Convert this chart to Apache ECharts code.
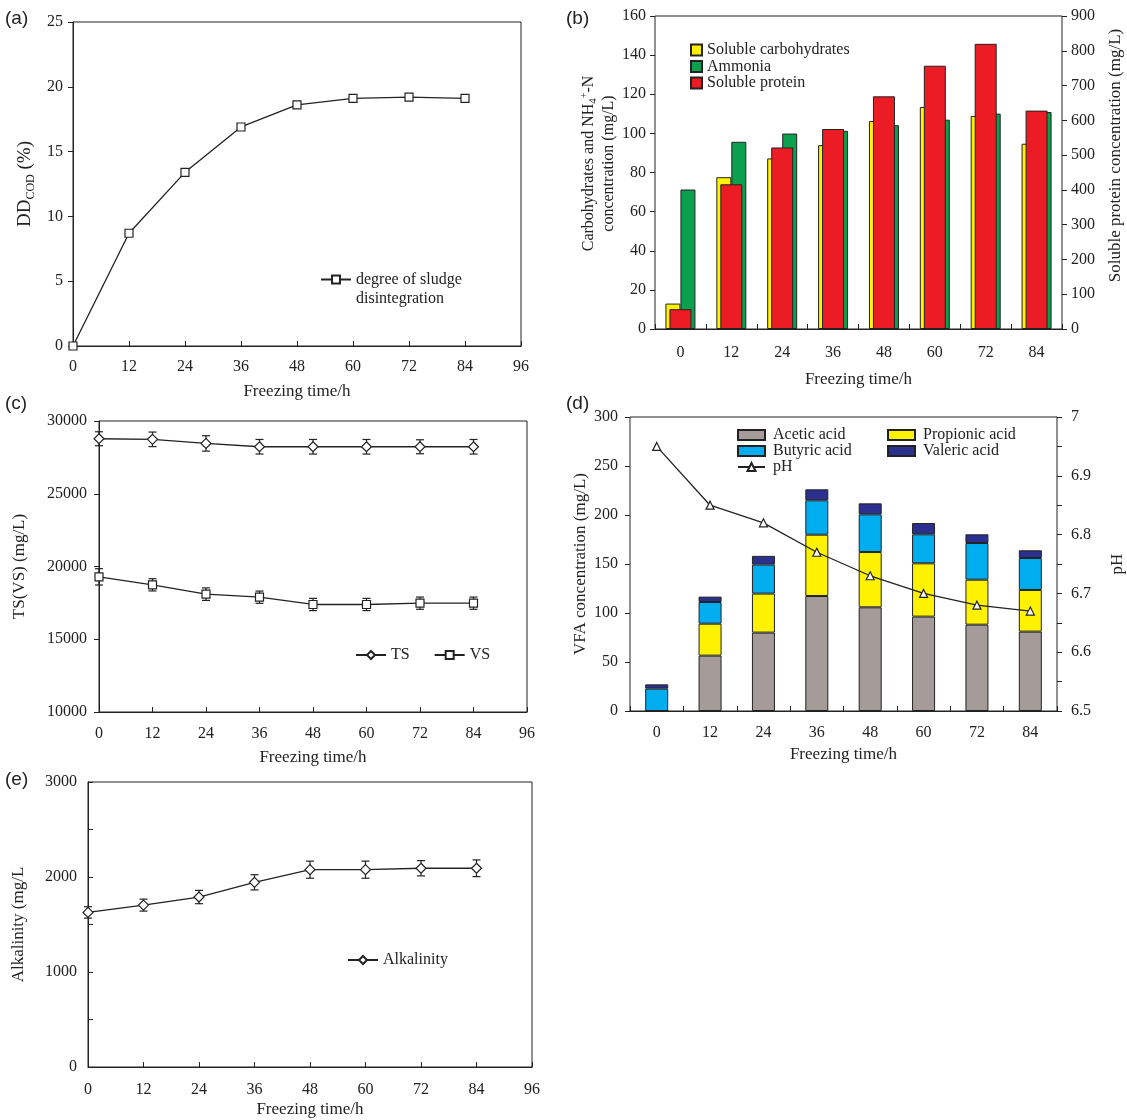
<!DOCTYPE html>
<html><head><meta charset="utf-8">
<script src="https://cdn.jsdelivr.net/npm/echarts@6/dist/echarts.min.js"></script>
<style>html,body{margin:0;padding:0;background:#fff}#c{width:1127px;height:1120px}</style>
</head><body><div id="c"></div>
<script>
// ---- shared
const hours = [0, 12, 24, 36, 48, 60, 72, 84];
const hourLabels = ['0', '12', '24', '36', '48', '60', '72', '84'];
// ---- (a) degree of sludge disintegration
const ddCOD = [0, 8.7, 13.4, 16.9, 18.6, 19.1, 19.2, 19.1];
// ---- (b)
const carbohydrates = [13.0, 77.6, 87.2, 94.0, 106.3, 113.5, 108.9, 94.7];
const ammonia = [71.3, 95.7, 99.9, 101.3, 104.2, 107.0, 110.1, 110.9];
const protein = [57, 416, 522, 575, 669, 757, 820, 628];
// ---- (c)
const tsMean = [28780, 28740, 28460, 28230, 28230, 28230, 28230, 28230];
const tsErr = [480, 500, 530, 500, 500, 500, 480, 500];
const vsMean = [19290, 18740, 18100, 17890, 17390, 17390, 17480, 17480];
const vsErr = [560, 420, 430, 420, 420, 420, 420, 420];
// ---- (d)
const acetic = [0, 56.5, 80.0, 117.3, 105.8, 96.3, 88.1, 81.0];
const propionic = [0, 32.6, 39.8, 62.6, 56.4, 54.4, 45.9, 42.5];
const butyric = [22.8, 22.1, 29.6, 35.1, 38.5, 29.6, 37.4, 32.6];
const valeric = [4.4, 5.5, 8.9, 11.2, 11.2, 11.5, 8.9, 7.9];
const pH = [6.95, 6.85, 6.82, 6.77, 6.73, 6.70, 6.68, 6.67];
// ---- (e)
const alkalinity = [1627, 1704, 1789, 1944, 2077, 2077, 2092, 2092];
const alkErr = [60, 63, 70, 80, 90, 90, 80, 88];

const F = 'Liberation Serif';
const INK = '#222';
const lab = (m) => ({fontFamily: F, fontSize: 16, color: INK, margin: m});
const nameSt = {fontFamily: F, fontSize: 17, color: INK};
const line = {lineStyle: {color: INK, width: 1}};
const noSplit = {show: false};
const plain = (v) => String(v);

const pairs = (ys) => hours.map((h, i) => [h, ys[i]]);
const errPairs = (ys, es) => hours.map((h, i) => [h, ys[i] - es[i], ys[i] + es[i]]);

function errRender(params, api) {
  const x = api.value(0), lo = api.value(1), hi = api.value(2);
  const p1 = api.coord([x, hi]), p2 = api.coord([x, lo]);
  const w = 4;
  const st = {stroke: INK, lineWidth: 1.2};
  return {type: 'group', children: [
    {type: 'line', shape: {x1: p1[0], y1: p1[1], x2: p2[0], y2: p2[1]}, style: st},
    {type: 'line', shape: {x1: p1[0] - w, y1: p1[1], x2: p1[0] + w, y2: p1[1]}, style: st},
    {type: 'line', shape: {x1: p2[0] - w, y1: p2[1], x2: p2[0] + w, y2: p2[1]}, style: st}
  ]};
}

const gridBox = {show: true, borderColor: INK, borderWidth: 1, backgroundColor: 'transparent'};
const letter = (t, l, tp) => ({text: t, left: l, top: tp, padding: 0,
  textStyle: {fontFamily: 'Liberation Sans', fontSize: 19, fontWeight: 'normal', color: INK}});

const valueX = (gi, lm, ng) => ({
  type: 'value', gridIndex: gi, min: 0, max: 96, interval: 12,
  axisLine: line, axisTick: {show: true, inside: true, length: 5, lineStyle: {color: INK}},
  axisLabel: Object.assign(lab(lm), {formatter: plain}), splitLine: noSplit,
  name: 'Freezing time/h', nameLocation: 'middle', nameGap: ng, nameTextStyle: nameSt
});
const catX = (gi, lm, ng) => ({
  type: 'category', gridIndex: gi, data: hourLabels,
  axisLine: line, axisTick: {show: true, inside: true, length: 5, interval: 0, lineStyle: {color: INK}},
  axisLabel: lab(lm), splitLine: noSplit,
  name: 'Freezing time/h', nameLocation: 'middle', nameGap: ng, nameTextStyle: nameSt
});

const option = {
  backgroundColor: '#fff',
  animation: false,
  title: [letter('(a)', 5, 9), letter('(b)', 566, 9), letter('(c)', 5, 394), letter('(d)', 566, 394), letter('(e)', 5, 770)],
  grid: [
    Object.assign({left: 73, top: 22, width: 448, height: 324}, gridBox),
    Object.assign({left: 655, top: 16, width: 407, height: 313}, gridBox),
    Object.assign({left: 99, top: 421, width: 428, height: 291}, gridBox),
    Object.assign({left: 630, top: 417, width: 435, height: 294}, gridBox),
    Object.assign({left: 88, top: 782, width: 444, height: 285}, gridBox)
  ],
  xAxis: [
    valueX(0, 13, 37),
    catX(1, 16, 42),
    {type: 'category', gridIndex: 1, data: hourLabels, show: false},
    valueX(2, 14, 37),
    catX(3, 14, 35),
    valueX(4, 15, 34)
  ],
  yAxis: [
    {type: 'value', gridIndex: 0, min: 0, max: 25, interval: 5,
      axisLine: line, axisTick: {show: true, length: 5, lineStyle: {color: INK}},
      axisLabel: lab(10), splitLine: noSplit,
      name: '{a|DD}{s|COD}{a| (%)}', nameLocation: 'middle', nameGap: 36, nameRotate: 90,
      nameTextStyle: {rich: {
        a: {fontFamily: F, fontSize: 19, color: INK, lineHeight: 24},
        s: {fontFamily: F, fontSize: 12, color: INK, lineHeight: 12, verticalAlign: 'bottom'}
      }}},
    {type: 'value', gridIndex: 1, min: 0, max: 160, interval: 20, position: 'left',
      axisLine: line, axisTick: {show: true, length: 5, lineStyle: {color: INK}},
      axisLabel: lab(9), splitLine: noSplit,
      name: '{t|Carbohydrates and NH}{s|4}{p|+}{t|-N}\n{t|concentration (mg/L)}',
      nameLocation: 'middle', nameGap: 36, nameRotate: 90,
      nameTextStyle: {padding: [0, 0, 0, 18], rich: {
        t: {fontFamily: F, fontSize: 16, color: INK, lineHeight: 20},
        s: {fontFamily: F, fontSize: 11, color: INK, lineHeight: 12, verticalAlign: 'bottom'},
        p: {fontFamily: F, fontSize: 10, color: INK, lineHeight: 10, verticalAlign: 'top'}
      }}},
    {type: 'value', gridIndex: 1, min: 0, max: 900, interval: 100, position: 'right',
      axisLine: line, axisTick: {show: true, length: 5, lineStyle: {color: INK}},
      axisLabel: lab(9), splitLine: noSplit,
      name: 'Soluble protein concentration (mg/L)', nameLocation: 'middle', nameGap: 45, nameRotate: 90,
      nameTextStyle: Object.assign({padding: [0, 0, 0, 34]}, nameSt)},
    {type: 'value', gridIndex: 2, min: 10000, max: 30000, interval: 5000,
      axisLine: line, axisTick: {show: true, length: 5, lineStyle: {color: INK}},
      axisLabel: Object.assign(lab(12), {formatter: plain}), splitLine: noSplit,
      name: 'TS(VS) (mg/L)', nameLocation: 'middle', nameGap: 71, nameRotate: 90, nameTextStyle: nameSt},
    {type: 'value', gridIndex: 3, min: 0, max: 300, interval: 50, position: 'left',
      axisLine: line, axisTick: {show: true, length: 5, lineStyle: {color: INK}},
      axisLabel: lab(12), splitLine: noSplit,
      name: 'VFA concentration (mg/L)', nameLocation: 'middle', nameGap: 41, nameRotate: 90, nameTextStyle: nameSt},
    {type: 'value', gridIndex: 3, min: 6.5, max: 7, interval: 0.05, position: 'right',
      axisLine: line, axisTick: {show: true, length: 5, lineStyle: {color: INK}},
      axisLabel: Object.assign(lab(14), {formatter: (v) => {
        const r = Math.round(v * 100); return r % 10 === 0 ? String(r / 100) : '';
      }}),
      splitLine: noSplit,
      name: 'pH', nameLocation: 'middle', nameGap: 52, nameRotate: 90, nameTextStyle: nameSt},
    {type: 'value', gridIndex: 4, min: 0, max: 3000, interval: 500,
      axisLine: line, axisTick: {show: true, inside: true, length: 5, lineStyle: {color: INK}},
      axisLabel: Object.assign(lab(11), {formatter: (v) => (v % 1000 === 0 ? String(v) : '')}),
      splitLine: noSplit,
      name: 'Alkalinity (mg/L', nameLocation: 'middle', nameGap: 61, nameRotate: 90, nameTextStyle: nameSt}
  ],
  legend: [
    {data: ['degree of sludge disintegration'], left: 320, top: 251, padding: 0, itemWidth: 30, itemHeight: 10,
      formatter: () => '\ndegree of sludge\ndisintegration',
      textStyle: {fontFamily: F, fontSize: 16, color: INK, lineHeight: 19}},
    {data: [{name: 'Soluble carbohydrates', icon: 'rect'}, {name: 'Ammonia', icon: 'rect'}, {name: 'Soluble protein', icon: 'rect'}],
      orient: 'vertical', left: 690, top: 42, padding: 0, itemWidth: 11, itemHeight: 11, itemGap: 0.5,
      textStyle: {fontFamily: F, fontSize: 16, color: INK, lineHeight: 15}},
    {data: ['TS', 'VS'], left: 355, top: 647, padding: 0, itemWidth: 30, itemHeight: 10, itemGap: 24,
      textStyle: {fontFamily: F, fontSize: 16, color: INK}},
    {data: [{name: 'Acetic acid', icon: 'rect'}, {name: 'Butyric acid', icon: 'rect'}, 'pH'],
      orient: 'vertical', left: 737, top: 427, padding: 0, itemWidth: 27, itemHeight: 10, itemGap: 0,
      textStyle: {fontFamily: F, fontSize: 16, color: INK, lineHeight: 14.5, padding: [0, 0, 0, 3]}},
    {data: [{name: 'Propionic acid', icon: 'rect'}, {name: 'Valeric acid', icon: 'rect'}],
      orient: 'vertical', left: 887, top: 427, padding: 0, itemWidth: 27, itemHeight: 10, itemGap: 0,
      textStyle: {fontFamily: F, fontSize: 16, color: INK, lineHeight: 14.5, padding: [0, 0, 0, 3]}},
    {data: ['Alkalinity'], left: 347, top: 952, padding: 0, itemWidth: 30, itemHeight: 10,
      textStyle: {fontFamily: F, fontSize: 16, color: INK}}
  ],
  series: [
    // (a)
    {name: 'degree of sludge disintegration', type: 'line', xAxisIndex: 0, yAxisIndex: 0, data: pairs(ddCOD),
      symbol: 'rect', symbolSize: 8, lineStyle: {color: INK, width: 1.3},
      itemStyle: {color: '#fff', borderColor: INK, borderWidth: 1.2}},
    // (b)
    {name: 'Soluble carbohydrates', type: 'bar', xAxisIndex: 1, yAxisIndex: 1, data: carbohydrates,
      barWidth: 15, barGap: '0%', itemStyle: {color: '#FFF200', borderColor: '#222', borderWidth: 1}},
    {name: 'Ammonia', type: 'bar', xAxisIndex: 1, yAxisIndex: 1, data: ammonia,
      barWidth: 15, barGap: '0%', itemStyle: {color: '#0AA04E', borderColor: '#222', borderWidth: 1}},
    {name: 'Soluble protein', type: 'bar', xAxisIndex: 2, yAxisIndex: 2, data: protein, z: 5,
      barWidth: 22, itemStyle: {color: '#EC1C24', borderColor: '#222', borderWidth: 1}},
    // (c)
    {name: 'TS err', type: 'custom', xAxisIndex: 3, yAxisIndex: 3, data: errPairs(tsMean, tsErr),
      renderItem: errRender, encode: {x: 0, y: [1, 2]}, z: 1},
    {name: 'VS err', type: 'custom', xAxisIndex: 3, yAxisIndex: 3, data: errPairs(vsMean, vsErr),
      renderItem: errRender, encode: {x: 0, y: [1, 2]}, z: 1},
    {name: 'TS', type: 'line', xAxisIndex: 3, yAxisIndex: 3, data: pairs(tsMean), z: 3,
      symbol: 'diamond', symbolSize: 10, lineStyle: {color: INK, width: 1.3},
      itemStyle: {color: '#fff', borderColor: INK, borderWidth: 1.2}},
    {name: 'VS', type: 'line', xAxisIndex: 3, yAxisIndex: 3, data: pairs(vsMean), z: 3,
      symbol: 'rect', symbolSize: 8, lineStyle: {color: INK, width: 1.3},
      itemStyle: {color: '#fff', borderColor: INK, borderWidth: 1.2}},
    // (d)
    {name: 'Acetic acid', type: 'bar', stack: 'vfa', xAxisIndex: 4, yAxisIndex: 4, data: acetic, barWidth: 23,
      itemStyle: {color: '#A59C99', borderColor: '#222', borderWidth: 1}},
    {name: 'Propionic acid', type: 'bar', stack: 'vfa', xAxisIndex: 4, yAxisIndex: 4, data: propionic, barWidth: 23,
      itemStyle: {color: '#FFF200', borderColor: '#222', borderWidth: 1}},
    {name: 'Butyric acid', type: 'bar', stack: 'vfa', xAxisIndex: 4, yAxisIndex: 4, data: butyric, barWidth: 23,
      itemStyle: {color: '#00ADEF', borderColor: '#222', borderWidth: 1}},
    {name: 'Valeric acid', type: 'bar', stack: 'vfa', xAxisIndex: 4, yAxisIndex: 4, data: valeric, barWidth: 23,
      itemStyle: {color: '#2B2F8E', borderColor: '#222', borderWidth: 1}},
    {name: 'pH', type: 'line', xAxisIndex: 4, yAxisIndex: 5, data: pH, z: 5,
      symbol: 'triangle', symbolSize: 8, lineStyle: {color: INK, width: 1.3},
      itemStyle: {color: '#fff', borderColor: INK, borderWidth: 1.2}},
    // (e)
    {name: 'Alk err', type: 'custom', xAxisIndex: 5, yAxisIndex: 6, data: errPairs(alkalinity, alkErr),
      renderItem: errRender, encode: {x: 0, y: [1, 2]}, z: 1},
    {name: 'Alkalinity', type: 'line', xAxisIndex: 5, yAxisIndex: 6, data: pairs(alkalinity), z: 3,
      symbol: 'diamond', symbolSize: 10, lineStyle: {color: INK, width: 1.3},
      itemStyle: {color: '#fff', borderColor: INK, borderWidth: 1.2}}
  ]
};
const chart = echarts.init(document.getElementById('c'), null, {renderer: 'canvas'});
chart.setOption(option);
</script>
</body></html>
